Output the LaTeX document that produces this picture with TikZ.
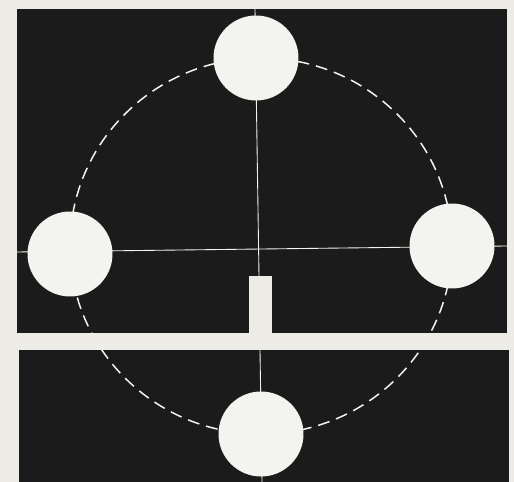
\documentclass[tikz,border=0pt]{standalone}
\usepackage{tikz}
\definecolor{paper}{HTML}{EDECE7}
\definecolor{ink}{HTML}{1B1B1B}
\definecolor{discwhite}{HTML}{F3F3EF}

\begin{document}
\begin{tikzpicture}[x=0.02cm,y=-0.02cm,
  disc/.style={circle,fill=discwhite,inner sep=0pt,minimum size=1.7cm},
  orbit/.style={draw=discwhite,line width=0.85pt,dash pattern=on 6.8pt off 4pt},
  hair/.style={draw=discwhite,line width=0.5pt}]
  % paper and the two black panels
  \fill[paper] (0,0) rectangle (514,482);
  \fill[ink] (17,9) rectangle (507,333);
  \fill[ink] (19,350) rectangle (509,482);
  % axes and dashed orbit, kept on the black
  \coordinate (vtop) at (255,9);
  \coordinate (vslot) at (259,276);
  \coordinate (vgap) at (260,350);
  \coordinate (vfoot) at (262,482);
  \coordinate (hleft) at (17,252);
  \coordinate (hright) at (507,246);
  \begin{scope}
    \clip (17,9) rectangle (507,333) (19,350) rectangle (509,482);
    \draw[orbit] (261,246) ellipse [x radius=191, y radius=188];
    \draw[hair] (vtop) -- (vslot);
    \draw[hair] (vgap) -- (vfoot);
    \draw[hair] (hleft) -- (hright);
  \end{scope}
  % slot
  \fill[paper] (249,276) rectangle (272,334);
  % discs
  \node[disc] (dtop) at (256,58) {};
  \node[disc] (dleft) at (70,254) {};
  \node[disc] (dright) at (452,246) {};
  \node[disc] (dbottom) at (261,434) {};
\end{tikzpicture}
\end{document}
